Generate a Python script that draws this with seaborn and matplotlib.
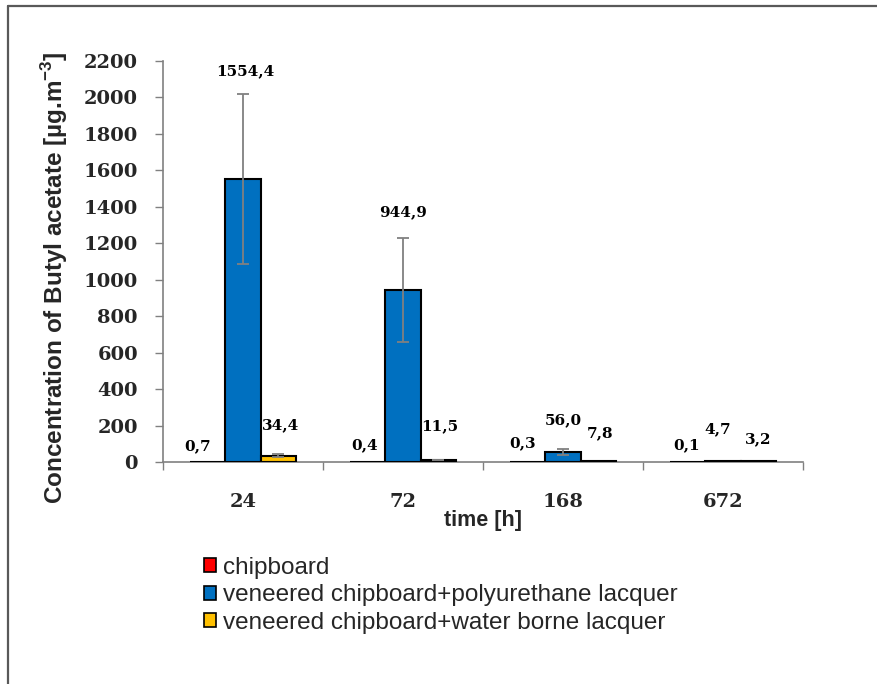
import pandas as pd
import numpy as np
import seaborn as sns
import matplotlib.pyplot as plt
from matplotlib.patches import Patch
from matplotlib.lines import Line2D

sns.set_theme(style='white')
plt.rcParams['mathtext.fontset'] = 'custom'
plt.rcParams['mathtext.bf'] = 'Liberation Sans:bold'
plt.rcParams['mathtext.rm'] = 'Liberation Sans:bold'

# data
times = ['24', '72', '168', '672']
series = ['chipboard',
          'veneered chipboard+polyurethane lacquer',
          'veneered chipboard+water borne lacquer']
chipboard = [0.7, 0.4, 0.3, 0.1]
polyurethane = [1554.4, 944.9, 56.0, 4.7]
water_borne = [34.4, 11.5, 7.8, 3.2]
chipboard_err = [0, 0, 0, 0]
polyurethane_err = [466, 284, 16, 0]
water_borne_err = [9, 2, 0, 0]
value_labels = [['0,7', '0,4', '0,3', '0,1'],
                ['1554,4', '944,9', '56,0', '4,7'],
                ['34,4', '11,5', '7,8', '3,2']]

colors = ['#FF0000', '#0070C0', '#FFC000']
# label nudges in pixels (dx, dy) relative to top of bar / error bar
nudges = [[(-10, 16), (-3, 17), (-5, 19), (-1, 17)],
          [(2, 23), (0, 26), (0, 29), (-5, 32)],
          [(2, 29), (2, 33), (2, 27), (0, 22)]]

df = pd.DataFrame({
    'time': times * 3,
    'series': np.repeat(series, 4),
    'value': chipboard + polyurethane + water_borne,
})
errs = [chipboard_err, polyurethane_err, water_borne_err]

fig = plt.figure(figsize=(8.77, 6.84), dpi=100)
ax = fig.add_axes([163/877, 1 - 462/684, 640/877, 401/684])

sns.barplot(data=df, x='time', y='value', hue='series', order=times,
            hue_order=series, palette=colors, width=0.66, saturation=1,
            edgecolor='black', linewidth=1.5, errorbar=None, legend=False,
            zorder=3, ax=ax)

bar_conts = list(ax.containers)
for s, cont in enumerate(bar_conts):
    for t, bar in enumerate(cont.patches):
        bar.set_zorder(3)
        xc = bar.get_x() + bar.get_width() / 2
        h = bar.get_height()
        e = errs[s][t]
        if e > 0:
            _, caps, bars = ax.errorbar(xc, h, yerr=e, fmt='none', ecolor='#808080',
                                        elinewidth=1.3, capsize=4.5, capthick=1.3,
                                        zorder=4)
            for c in caps:
                c.set_color('#222222')
        dx, dy = nudges[s][t]
        ax.annotate(value_labels[s][t], xy=(xc, h + e), xytext=(dx, dy),
                    textcoords='offset pixels', ha='center', va='center',
                    fontsize=11, fontweight='bold', family='DejaVu Serif',
                    color='black')

ax.set_ylim(0, 2200)
ax.set_yticks(range(0, 2201, 200))
ax.set_xlim(-0.5, 3.5)
ax.set_xticks([-0.5, 0.5, 1.5, 2.5, 3.5])
ax.set_xticklabels([])
ax.set_xticks(range(4), times, minor=True)
ax.tick_params(axis='x', which='major', length=6, width=1, color='#808080', direction='out', bottom=True)
ax.tick_params(axis='x', which='minor', length=0, pad=22, labelsize=14)
ax.tick_params(axis='y', length=6, width=1, color='#808080', direction='out', left=True, pad=12, labelsize=14)
for lab in ax.get_xticklabels(minor=True) + ax.get_yticklabels():
    lab.set_family('DejaVu Serif')
    lab.set_fontweight('bold')

for side in ['top', 'right']:
    ax.spines[side].set_visible(False)
for side in ['left', 'bottom']:
    ax.spines[side].set_color('#808080')
    ax.spines[side].set_linewidth(1.2)
    ax.spines[side].set_zorder(2)

ax.set_xlabel('time [h]', fontsize=15.5, fontweight='bold', family='Liberation Sans')
ax.xaxis.set_label_coords(0.5, -0.12)
ax.set_ylabel(r'Concentration of Butyl acetate [µg.m$^{\mathbf{-3}}$]',
              fontsize=17.5, fontweight='bold', family='Liberation Sans')
ax.yaxis.set_label_coords(-0.145, 0.46)

handles = [Patch(facecolor=c, edgecolor='black', linewidth=1.2) for c in colors]
fig.legend(handles, series, loc='upper left', bbox_to_anchor=(204/877, 1 - 557/684),
           frameon=False, handlelength=0.5, handleheight=0.5,
           handletextpad=0.3, labelspacing=0.22, borderpad=0, borderaxespad=0,
           prop={'family': 'Liberation Sans', 'size': 17.5})

# outer frame (left and top edges)
fig.add_artist(Line2D([8/877, 8/877], [0, 1 - 6/684], transform=fig.transFigure,
                      color='#595959', lw=1.6))
fig.add_artist(Line2D([8/877, 1], [1 - 6/684, 1 - 6/684], transform=fig.transFigure,
                      color='#595959', lw=1.6))

fig.savefig('out.png', dpi=100)
